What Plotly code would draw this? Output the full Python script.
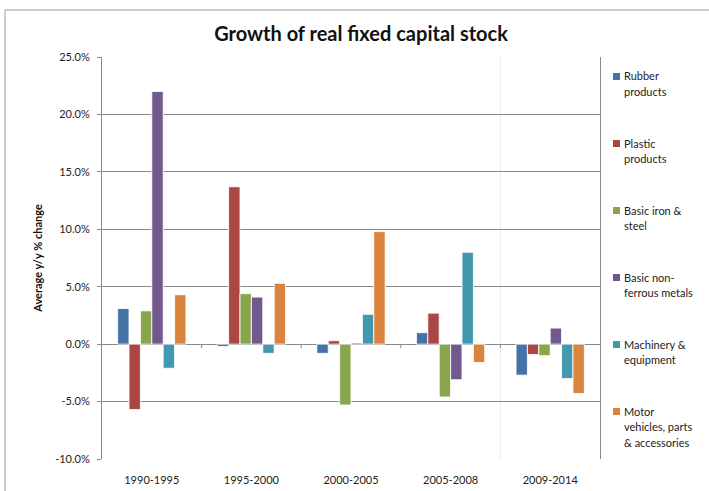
import plotly.graph_objects as go

# Periods on the category axis
periods = ["1990-1995", "1995-2000", "2000-2005", "2005-2008", "2009-2014"]

# Average y/y % change of real fixed capital stock, by industry
rubber = [3.1, -0.2, -0.8, 1.0, -2.7]
plastic = [-5.7, 13.7, 0.3, 2.7, -0.9]
iron_steel = [2.9, 4.4, -5.3, -4.6, -1.0]
non_ferrous = [22.0, 4.1, 0.1, -3.1, 1.4]
machinery = [-2.1, -0.8, 2.6, 8.0, -3.0]
motor = [4.3, 5.3, 9.8, -1.6, -4.3]

series_names = [
    "Rubber\nproducts",
    "Plastic\nproducts",
    "Basic iron &\nsteel",
    "Basic non-\nferrous metals",
    "Machinery &\nequipment",
    "Motor\nvehicles, parts\n& accessories",
]
series_values = [rubber, plastic, iron_steel, non_ferrous, machinery, motor]
series_colors = ["#4572A7", "#AA4643", "#89A54E", "#71588F", "#4198AF", "#DB843D"]

y_ticks = [-10, -5, 0, 5, 10, 15, 20, 25]

W, H = 709, 491
# plot area in pixels
PL, PR, PT, PB = 102, 600, 57, 459
FONT = "Lato"
GRID = "#8a8a8a"


def px_x(px):
    return (px - PL) / (PR - PL)


def px_y(py):
    return (PB - py) / (PB - PT)


fig = go.Figure()
for name, vals, col in zip(series_names, series_values, series_colors):
    fig.add_trace(go.Bar(
        x=periods, y=vals, name=name.replace("\n", " "),
        marker=dict(color=col, line=dict(color="rgba(255,255,255,0.85)", width=1)),
        showlegend=False,
    ))

shapes = []
annotations = []

# outer chart frame
shapes.append(dict(type="rect", xref="paper", yref="paper",
                   x0=px_x(5), x1=px_x(715), y0=px_y(498), y1=px_y(10),
                   line=dict(color="#9a9a9a", width=1), fillcolor="rgba(0,0,0,0)", layer="below"))

# faint divider before the last period
shapes.append(dict(type="line", xref="x", yref="paper", x0=3.5, x1=3.5, y0=0, y1=1,
                   line=dict(color="#ececec", width=1), layer="below"))

# small tick marks on the zero line at category boundaries
for b in [0.5, 1.5, 2.5, 3.5]:
    shapes.append(dict(type="line", xref="x", yref="y", ysizemode="pixel", yanchor=0,
                       x0=b, x1=b, y0=0, y1=-4, line=dict(color=GRID, width=1)))

# legend drawn alongside the plot
leg_top = 76
for i, (name, col) in enumerate(zip(series_names, series_colors)):
    cy = leg_top + i * 67
    shapes.append(dict(type="rect", xref="paper", yref="paper",
                       x0=px_x(613), x1=px_x(620), y0=px_y(cy + 4), y1=px_y(cy - 3),
                       fillcolor=col, line=dict(width=0)))
    for j, line in enumerate(name.split("\n")):
        annotations.append(dict(xref="paper", yref="paper", x=px_x(622), y=px_y(cy + j * 15.5),
                                xanchor="left", yanchor="middle", text=line, showarrow=False,
                                font=dict(family=FONT, size=11, color="#222")))

fig.update_layout(
    width=W, height=H,
    margin=dict(l=PL, r=W - PR, t=PT, b=H - PB, pad=0, autoexpand=False),
    paper_bgcolor="white", plot_bgcolor="white",
    barmode="group", bargap=0.314, bargroupgap=0,
    font=dict(family=FONT, size=11, color="#222"),
    title=dict(text="<b>Growth of real fixed capital stock</b>", x=361 / W, xanchor="center",
               y=1 - 34 / H, yanchor="middle",
               font=dict(family=FONT, size=20, color="#111")),
    xaxis=dict(showgrid=False, showline=False, zeroline=False, automargin=False,
               ticks="outside", ticklen=11, tickcolor="rgba(0,0,0,0)",
               tickfont=dict(family=FONT, size=11, color="#222")),
    yaxis=dict(range=[-10, 25], tickvals=y_ticks, automargin=False,
               ticktext=[f"{v:.1f}%" for v in y_ticks],
               showgrid=True, gridcolor=GRID, gridwidth=1,
               zeroline=True, zerolinecolor=GRID, zerolinewidth=1,
               showline=True, linecolor=GRID, linewidth=1, mirror=True,
               ticks="outside", ticklen=4, tickcolor=GRID, ticklabelstandoff=5,
               tickfont=dict(family=FONT, size=11, color="#222"),
               title=dict(text="<b>Average y/y % change</b>", standoff=10,
                          font=dict(family=FONT, size=11, color="#111"))),
    shapes=shapes, annotations=annotations,
)

fig.write_html("out.html")
